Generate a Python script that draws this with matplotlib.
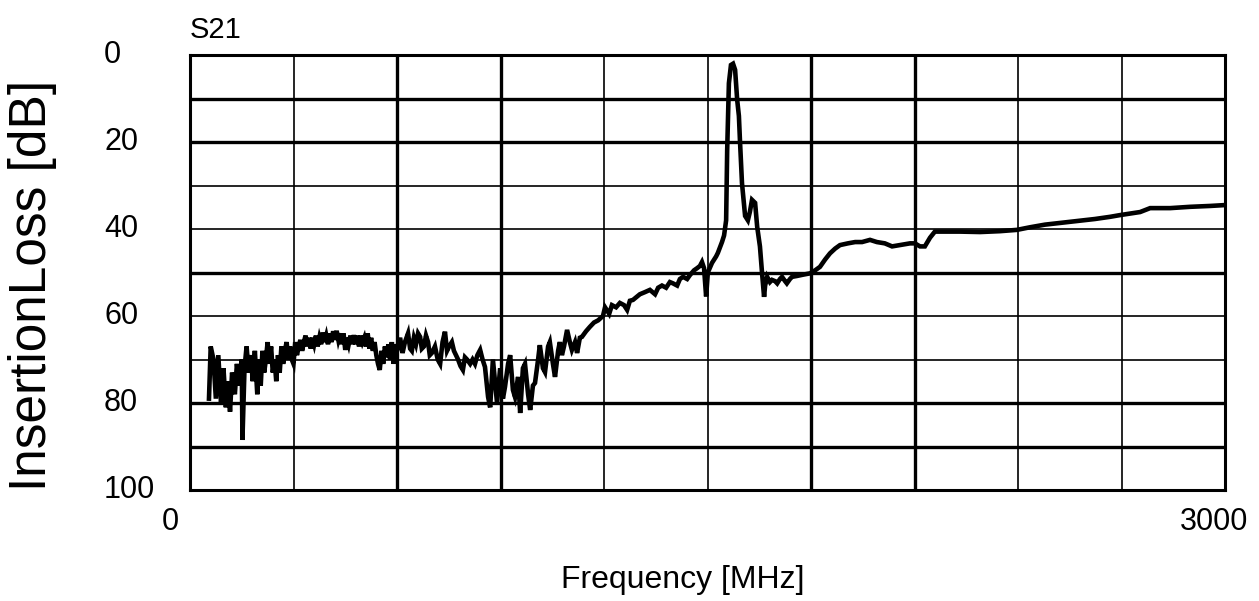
#!/usr/bin/env python3

import matplotlib.pyplot as plt
from matplotlib.ticker import FixedLocator

plt.rcParams['font.family'] = ['Liberation Sans', 'DejaVu Sans']

# ======================================================================
# S21 trace (MHz, dB of insertion loss).
# ======================================================================

freq = [
    55, 60, 68, 75, 82, 90, 97, 104, 110, 116, 122, 130, 136, 143, 150,
    152, 158, 164, 170, 176, 182, 188, 195,
    200, 205, 210, 215, 220, 225, 230, 235, 240, 245, 250, 255, 260, 265,
    270, 275, 280, 285, 290, 295, 300, 305, 310, 315, 320, 325, 330, 335,
    340, 345, 350, 355, 360, 365, 370, 375, 380, 385, 390, 395, 400, 405,
    410, 415, 420, 425, 430, 435, 440, 445, 450, 455, 460, 465, 470, 475,
    480, 485, 490, 495, 500, 505, 510, 515, 520, 525, 530, 535, 540, 545,
    550, 555, 560, 565, 570, 575, 580, 585, 590, 595, 600,
    609, 616, 623, 632, 638, 643, 649, 655, 661, 667, 672, 678, 684, 690,
    695, 701, 710, 718, 725, 732, 739, 745, 751, 759, 765, 771, 777, 784,
    791, 797, 803, 812, 819, 826, 833, 841, 848, 855, 864, 870, 878, 890,
    899, 907, 913, 922, 928, 936, 942, 951, 957, 965, 971, 980, 986, 994,
    1000, 1009, 1014, 1023, 1029, 1038, 1043, 1052, 1058, 1067, 1072, 1078,
    1084, 1093, 1101, 1107, 1116, 1122, 1130, 1136, 1148, 1159, 1171, 1183,
    1197, 1203, 1215, 1223, 1235, 1246, 1258, 1267, 1275, 1284, 1296, 1304,
    1319, 1333, 1348, 1357, 1368, 1380, 1391, 1400, 1412, 1420, 1429, 1441,
    1449, 1461, 1470, 1478, 1484, 1490, 1496, 1501, 1513, 1525, 1530, 1542,
    1548, 1554, 1557, 1562, 1568, 1574, 1580, 1586, 1591, 1594, 1600, 1609,
    1617, 1623, 1629, 1638, 1644, 1652, 1658, 1664, 1667, 1673, 1681, 1687,
    1696, 1702, 1710, 1716, 1725, 1730, 1739, 1745, 1759, 1777, 1797, 1812,
    1826, 1841, 1855, 1870, 1884, 1907, 1928, 1948, 1971, 1991, 2014, 2035,
    2058, 2087, 2101, 2116, 2130, 2145, 2159, 2188, 2232, 2290, 2348, 2397,
    2435, 2478, 2522, 2565, 2623, 2667, 2696, 2754, 2783, 2841, 2899, 2957,
    3000,
]

loss = [
    79, 67, 70, 79, 69, 80, 72, 81, 75, 82, 73, 78, 71, 76, 70,
    88.5, 72, 67, 73, 69, 75, 68, 78,
    70, 76, 68, 73, 70, 66, 71, 67, 73, 70, 75, 69, 73, 67,
    71, 68, 66, 70, 67, 70, 71, 66, 69, 67, 65.5, 68, 66, 64.5,
    67, 65, 67.5, 65, 66.5, 64.5, 67, 65, 66.5, 63.8, 66, 64.5, 66.5, 64,
    66, 63.5, 65.5, 63.4, 65.5, 64, 66.5, 64, 67.8, 65, 66.5, 64.5, 66.5, 64.4,
    66.5, 64.5, 67, 64.5, 66, 65, 67, 64, 67.5, 65, 68, 66, 69, 71,
    72.4, 68, 71, 67, 69.5, 66.5, 70, 66, 71, 66.5, 68,
    65, 68.5, 66, 64, 67.5, 68, 65, 66.5, 64, 64.8, 67.5, 67, 64.5, 66,
    69, 68.5, 67, 70, 71, 66, 63.6, 68, 67, 66, 68, 69, 70, 71.5,
    72.4, 69.5, 70, 71, 70, 71, 69, 67.8, 70, 71.7, 78.6, 81, 70, 80,
    72, 79, 76.3, 71, 69, 77, 78.6, 74, 82.3, 72, 71, 78, 81.6, 76,
    75.4, 70, 66.7, 72, 72.9, 67, 66, 71, 74, 68, 66, 69,
    67, 63.2, 66, 67.8, 66, 68.5, 65, 64.8, 63.5, 62.5, 61.5, 61,
    60, 58, 59.5, 57.5, 58, 57, 57.5, 58.6, 56.5, 56.3, 55.5, 55,
    54.5, 54, 55, 53.5, 53, 53.5, 52.2, 52.5, 53, 51.5, 51, 51.5,
    50.6, 49.5, 49, 48.5, 47.6, 49, 55.5, 50, 47.8, 46.3, 45.5, 43,
    41.5, 38, 22, 6.5, 2.3, 2.0, 3.4, 10.3, 14, 19.5, 29.5, 37,
    38, 36, 33.3, 34, 39.5, 44, 50, 55.6, 53, 51, 52.2, 51.7,
    52, 52.5, 51.5, 51, 52, 52.5, 51.5, 51, 50.8, 50.5, 50.2, 49.5,
    48.7, 47, 45.6, 44.5, 43.7, 43.3, 43, 43, 42.5, 43, 43.3, 44,
    43.7, 43.3, 43.3, 44, 44, 42, 40.6, 40.6, 40.6, 40.7, 40.5, 40.2,
    39.6, 39, 38.6, 38.2, 37.7, 37.2, 36.8, 36.1, 35.2, 35.2, 34.9, 34.7,
    34.5,
]

xgrid_thick = [600, 900, 1800, 2100]
xgrid_thin = [300, 1200, 1500, 2400, 2700]
ygrid_thick = [10, 20, 50, 80, 90]
ygrid_thin = [30, 40, 60, 70]
ylabels = [0, 20, 40, 60, 80, 100]

# ======================================================================
# Plot.
# ======================================================================

fig = plt.figure(figsize=(12.59, 6.01), dpi=100)
ax = fig.add_axes([190/1259, 1-490/601, 1035/1259, 435/601])

ax.plot(freq, loss, color='black', lw=3.3, solid_joinstyle='miter')
ax.set_xlim(0, 3000)
ax.set_ylim(100, 0)

ax.xaxis.set_major_locator(FixedLocator(xgrid_thick))
ax.xaxis.set_minor_locator(FixedLocator(xgrid_thin))
ax.yaxis.set_major_locator(FixedLocator(ygrid_thick))
ax.yaxis.set_minor_locator(FixedLocator(ygrid_thin))
ax.grid(which='major', color='black', lw=2.4)
ax.grid(which='minor', color='black', lw=1.2)
ax.set_axisbelow(True)
ax.tick_params(which='both', length=0, labelleft=False, labelbottom=False)
for s in ax.spines.values():
    s.set_linewidth(2.2)

ytr = ax.get_yaxis_transform()
for v in ylabels:
    ax.text(-0.083, v, str(v), transform=ytr, ha='left', va='center',
            fontsize=22)
ax.text(-0.0193, -0.074, '0', transform=ax.transAxes, ha='center',
        va='center', fontsize=22)
ax.text(0.989, -0.074, '3000', transform=ax.transAxes, ha='center',
        va='center', fontsize=22)

fig.text(683/1259, 1-580/601, 'Frequency [MHz]', ha='center', va='center',
         fontsize=23)
fig.text(33/1259, 1-285/601, 'InsertionLoss [dB]', ha='center',
         va='center', rotation=90, fontsize=37)
fig.text(190/1259, 1-30/601, 'S21', ha='left', va='center', fontsize=21)

fig.savefig('out.png', dpi=100)
plt.close()
